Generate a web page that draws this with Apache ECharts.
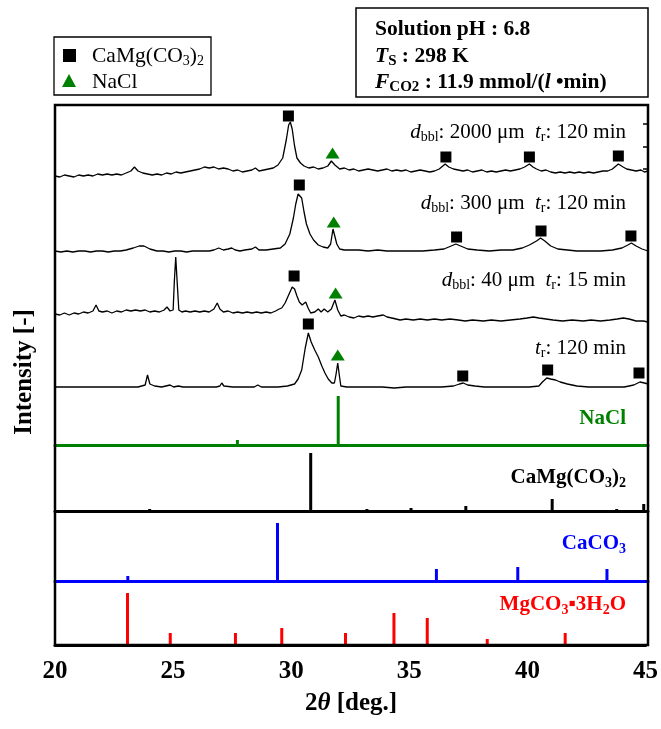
<!DOCTYPE html>
<html lang="en">
<head>
    <meta charset="UTF-8">
    <title>XRD</title>
    <script src="https://cdn.jsdelivr.net/npm/echarts/dist/echarts.min.js"></script>
    <style>body{margin:0;background:#fff;}</style>
</head>
<body>
    <div id="main" style="width:661px;height:729px;"></div>
    <script>
// measured patterns, [2theta, intensity a.u.]
var trace1 = [[20.0,4],[20.2,3],[20.4,5],[20.6,4],[20.8,3],[21.0,5],[21.2,4],[21.4,5],[21.6,4],[21.8,6],[22.0,5],[22.2,6],[22.4,5],[22.6,6],[22.8,5],[23.0,7],[23.2,9],[23.35,13],[23.5,9],[23.7,7],[23.9,6],[24.1,5],[24.3,6],[24.5,5],[24.7,7],[24.9,6],[25.1,8],[25.3,7],[25.5,8],[25.7,9],[25.9,10],[26.1,11],[26.3,13],[26.5,12],[26.7,13],[26.9,11],[27.1,12],[27.3,11],[27.5,9],[27.7,10],[27.9,8],[28.1,9],[28.3,10],[28.45,12],[28.6,9],[28.8,10],[29.0,11],[29.2,12],[29.4,15],[29.6,22],[29.75,40],[29.85,55],[29.92,58],[30.0,51],[30.1,34],[30.2,22],[30.35,17],[30.5,14],[30.7,12],[30.9,13],[31.1,11],[31.3,12],[31.5,14],[31.65,19],[31.8,15],[32.0,11],[32.2,12],[32.4,10],[32.6,11],[32.8,9],[33.0,10],[33.2,11],[33.4,10],[33.6,9],[33.8,10],[34.0,11],[34.2,9],[34.4,10],[34.6,9],[34.8,10],[35.0,8],[35.2,9],[35.4,10],[35.6,9],[35.8,8],[36.0,9],[36.2,11],[36.45,16],[36.6,13],[36.8,11],[37.0,10],[37.2,9],[37.4,10],[37.6,8],[37.8,9],[38.0,10],[38.2,8],[38.4,9],[38.6,8],[38.8,9],[39.0,10],[39.2,9],[39.4,10],[39.6,11],[39.8,13],[40.0,16],[40.15,13],[40.3,11],[40.5,9],[40.7,10],[40.9,8],[41.1,7],[41.3,8],[41.5,7],[41.7,8],[41.9,7],[42.1,8],[42.3,7],[42.5,8],[42.7,7],[42.9,8],[43.1,9],[43.3,9],[43.5,11],[43.75,16],[43.95,13],[44.1,11],[44.3,10],[44.5,9],[44.7,10],[44.85,8],[45.0,9]];
var trace2 = [[20.0,5],[20.25,4],[20.5,5],[20.75,4],[21.0,5],[21.25,5],[21.5,4],[21.75,5],[22.0,5],[22.25,4],[22.5,5],[22.75,5],[23.0,6],[23.3,8],[23.55,10],[23.75,10],[24.0,7],[24.3,5],[24.55,5],[24.8,4],[25.05,5],[25.3,5],[25.55,4],[25.8,5],[26.05,5],[26.3,5],[26.5,5],[26.7,6],[26.9,8],[27.1,6],[27.3,7],[27.45,8],[27.6,6],[27.8,5],[28.0,6],[28.3,7],[28.45,9],[28.6,6],[28.9,6],[29.2,7],[29.5,8],[29.7,12],[29.9,22],[30.05,38],[30.15,52],[30.25,62],[30.3,64],[30.4,58],[30.5,44],[30.6,32],[30.75,22],[30.9,16],[31.1,11],[31.3,9],[31.5,8],[31.62,12],[31.72,27],[31.78,27],[31.88,12],[32.0,7],[32.2,6],[32.4,6],[32.8,6],[33.2,5],[33.6,6],[34.0,5],[34.5,5],[35.0,5],[35.5,5],[36.0,6],[36.4,7],[36.7,10],[36.9,12],[37.1,10],[37.4,7],[37.8,6],[38.3,5],[38.8,6],[39.3,6],[39.7,8],[40.0,11],[40.3,15],[40.47,18],[40.65,15],[40.9,10],[41.2,7],[41.6,6],[42.0,5],[42.5,5],[43.0,5],[43.5,6],[43.9,8],[44.15,11],[44.3,13],[44.5,10],[44.75,7],[45.0,5]];
var trace3 = [[20.0,8],[20.2,7],[20.4,9],[20.6,7],[20.8,9],[21.0,8],[21.2,10],[21.4,9],[21.6,11],[21.73,17],[21.85,11],[22.0,10],[22.2,11],[22.4,9],[22.6,11],[22.8,10],[23.0,12],[23.2,11],[23.4,12],[23.6,11],[23.8,12],[24.0,10],[24.2,11],[24.4,10],[24.6,12],[24.72,15],[24.85,11],[24.98,12],[25.03,40],[25.09,65],[25.15,40],[25.22,12],[25.35,10],[25.5,11],[25.7,10],[25.9,11],[26.1,10],[26.3,11],[26.5,10],[26.7,13],[26.84,19],[26.95,13],[27.1,10],[27.3,11],[27.5,9],[27.7,10],[27.9,9],[28.1,10],[28.3,9],[28.5,10],[28.7,9],[28.9,10],[29.1,9],[29.3,11],[29.45,13],[29.56,14],[29.7,19],[29.85,27],[30.0,35],[30.1,33],[30.2,26],[30.3,20],[30.42,17],[30.57,20],[30.67,14],[30.78,9],[30.95,10],[31.1,13],[31.22,10],[31.35,13],[31.5,10],[31.65,13],[31.8,22],[31.92,12],[32.05,6],[32.2,7],[32.4,5],[32.6,4],[32.8,6],[33.0,5],[33.2,6],[33.4,5],[33.6,6],[33.84,7],[34.0,5],[34.2,4],[34.55,2],[34.8,3],[35.1,2],[35.4,3],[35.7,2],[36.0,3],[36.3,2],[36.65,3],[37.0,2],[37.3,1],[37.6,2],[38.06,1],[38.4,2],[38.8,1],[39.2,2],[39.6,3],[39.9,4],[40.17,5],[40.4,4],[40.7,3],[41.0,2],[41.4,1],[41.8,2],[42.27,1],[42.6,2],[43.0,1],[43.4,2],[43.7,3],[43.96,4],[44.2,3],[44.5,1],[44.8,1],[45.0,0]];
var trace4 = [[20.0,5],[20.5,5],[21.0,5],[21.5,5],[22.0,5],[22.5,5],[23.0,5],[23.5,5],[23.8,7],[23.9,17],[24.0,8],[24.2,6],[24.5,5],[24.85,7],[25.0,5],[25.2,6],[25.4,5],[25.8,5],[26.3,5],[26.8,5],[26.95,6],[27.03,9],[27.12,6],[27.5,5],[28.0,5],[28.4,5],[28.55,7],[28.7,5],[29.0,5],[29.4,5],[29.8,6],[30.1,8],[30.25,13],[30.4,22],[30.55,44],[30.68,59],[30.8,50],[30.95,42],[31.1,35],[31.25,26],[31.38,19],[31.52,13],[31.67,9],[31.78,9],[31.85,18],[31.92,29],[31.98,18],[32.05,6],[32.3,5],[32.8,5],[33.3,5],[33.8,5],[34.3,4],[34.8,5],[35.3,5],[35.8,5],[36.3,5],[36.8,6],[37.05,8],[37.21,9],[37.4,7],[37.7,6],[38.1,5],[38.45,5],[38.51,7],[38.58,5],[39.0,5],[39.5,5],[40.0,5],[40.4,6],[40.55,10],[40.73,14],[40.9,13],[41.1,12],[41.3,10],[41.6,8],[42.0,6],[42.5,5],[43.0,5],[43.5,5],[44.0,5],[44.4,7],[44.66,10],[44.85,9],[45.0,8]];

// peak markers (CaMg(CO3)2 squares, NaCl triangles)
var sq1 = [[29.84,64],[36.48,23],[40.0,23],[43.75,24]];
var tri1 = [[31.7,27]];
var sq2 = [[30.3,71],[36.93,19],[40.49,25],[44.28,20]];
var tri2 = [[31.75,34]];
var sq3 = [[30.08,46]];
var tri3 = [[31.83,29]];
var sq4 = [[30.68,68],[37.19,16],[40.77,22],[44.62,19]];
var tri4 = [[31.92,37]];

// reference sticks
var refNaCl = [[27.69,5],[31.94,49]];
var refDolomite = [[22.04,1],[23.99,2],[30.78,58],[33.15,2],[35.01,3],[37.32,5],[40.96,12],[43.68,2],[44.82,7]];
var refCaCO3 = [[23.07,5],[29.38,58],[36.08,12],[39.51,14],[43.27,12]];
var refMgCO3 = [[23.07,52],[24.88,12],[27.64,12],[29.6,17],[32.3,12],[34.35,32],[35.76,27],[38.3,6],[41.6,12]];

var GREEN = '#008000', BLUE = '#0000ff', RED = '#ff0000';
var serif = 'Liberation Serif';

var myChart = echarts.init(document.getElementById('main'));

// grid boxes: [top, height]
var boxes = [[105,75],[181,75],[247,75],[317,75],[393,52],[447,64],[515,66],[583,62],[124,45]];
var grids = boxes.map(function (b) { return { left: 55, right: 13, top: b[0], height: b[1] }; });

function xAx(i, lineColor, labels) {
    return {
        type: 'value', gridIndex: i, min: 20, max: 45, interval: 5,
        show: !!lineColor,
        axisLine: { show: !!lineColor, onZero: false, lineStyle: { color: lineColor || '#000', width: 3 } },
        axisTick: { show: false },
        splitLine: { show: false },
        axisLabel: labels ? { show: true, margin: 14, color: '#000', fontFamily: serif, fontWeight: 'bold', fontSize: 25 } : { show: false }
    };
}
var xAxes = [xAx(0), xAx(1), xAx(2), xAx(3), xAx(4, GREEN), xAx(5, '#000'), xAx(6, BLUE), xAx(7, '#000', true), xAx(8)];
var yAxes = boxes.map(function (b, i) {
    return { type: 'value', gridIndex: i, min: 0, max: b[1], show: false };
});
// small right-hand ticks beside the top pattern
yAxes[8] = {
    type: 'value', gridIndex: 8, min: 0, max: 2, interval: 1, position: 'right',
    axisLine: { show: false }, axisLabel: { show: false }, splitLine: { show: false },
    axisTick: { show: true, inside: true, length: 5, lineStyle: { color: '#000', width: 1.5 } }
};

var series = [];
[trace1, trace2, trace3, trace4].forEach(function (d, i) {
    series.push({ type: 'line', xAxisIndex: i, yAxisIndex: i, data: d, showSymbol: false, clip: false,
        lineStyle: { color: '#000', width: 1.3 } });
});
[sq1, sq2, sq3, sq4].forEach(function (d, i) {
    series.push({ type: 'scatter', xAxisIndex: i, yAxisIndex: i, data: d, symbol: 'rect', symbolSize: 11,
        itemStyle: { color: '#000', opacity: 1 }, clip: false, z: 5 });
});
[tri1, tri2, tri3, tri4].forEach(function (d, i) {
    series.push({ type: 'scatter', xAxisIndex: i, yAxisIndex: i, data: d, symbol: 'triangle', symbolSize: [14, 11],
        itemStyle: { color: GREEN, opacity: 1 }, clip: false, z: 5 });
});
[[refNaCl, GREEN], [refDolomite, '#000'], [refCaCO3, BLUE], [refMgCO3, RED]].forEach(function (r, i) {
    series.push({ type: 'bar', xAxisIndex: i + 4, yAxisIndex: i + 4, data: r[0], barWidth: 3,
        itemStyle: { color: r[1] } });
});

var traceRich = {
    n: { fontFamily: serif, fontSize: 21 },
    i: { fontFamily: serif, fontSize: 21, fontStyle: 'italic' },
    s: { fontFamily: serif, fontSize: 14, padding: [10, 0, 0, 0] }
};
function traceLabel(txt, y) {
    return { type: 'text', x: 626, y: y, z: 10,
        style: { text: txt, align: 'right', verticalAlign: 'middle', fill: '#000', rich: traceRich, fontFamily: serif, fontSize: 21 } };
}
function refLabel(txt, y, color) {
    var b = { fontFamily: serif, fontSize: 21, fontWeight: 'bold', fill: color };
    return { type: 'text', x: 626, y: y, z: 10,
        style: { text: txt, align: 'right', verticalAlign: 'middle', fill: color, fontFamily: serif, fontSize: 21, fontWeight: 'bold',
            rich: { b: b, s: { fontFamily: serif, fontSize: 14, fontWeight: 'bold', fill: color, padding: [10, 0, 0, 0] } } } };
}
var infoRich = {
    b: { fontFamily: serif, fontSize: 21.5, fontWeight: 'bold' },
    i: { fontFamily: serif, fontSize: 21.5, fontWeight: 'bold', fontStyle: 'italic' },
    s: { fontFamily: serif, fontSize: 15, fontWeight: 'bold', padding: [11, 0, 0, 0] }
};
var legRich = {
    n: { fontFamily: serif, fontSize: 21.5 },
    s: { fontFamily: serif, fontSize: 14, padding: [10, 0, 0, 0] }
};

var graphic = [
    // frame
    { type: 'rect', z: 20, shape: { x: 55, y: 105, width: 593, height: 540 }, style: { fill: 'none', stroke: '#000', lineWidth: 2.5 } },
    // legend box
    { type: 'rect', shape: { x: 54, y: 37, width: 157, height: 58 }, style: { fill: '#fff', stroke: '#000', lineWidth: 1.3 } },
    { type: 'rect', shape: { x: 63, y: 49, width: 13, height: 13 }, style: { fill: '#000' } },
    { type: 'polygon', shape: { points: [[69, 74], [62, 87], [76, 87]] }, style: { fill: GREEN } },
    { type: 'text', x: 92, y: 56, style: { text: '{n|CaMg(CO}{s|3}{n|)}{s|2}', rich: legRich, verticalAlign: 'middle', fill: '#000' } },
    { type: 'text', x: 92, y: 82, style: { text: 'NaCl', verticalAlign: 'middle', fill: '#000', fontFamily: serif, fontSize: 21.5 } },
    // condition box
    { type: 'rect', shape: { x: 356, y: 8, width: 292, height: 89 }, style: { fill: '#fff', stroke: '#000', lineWidth: 1.5 } },
    { type: 'text', x: 375, y: 29, style: { text: '{b|Solution pH : 6.8}', rich: infoRich, verticalAlign: 'middle', fill: '#000' } },
    { type: 'text', x: 375, y: 56, style: { text: '{i|T}{s|S}{b| : 298 K}', rich: infoRich, verticalAlign: 'middle', fill: '#000' } },
    { type: 'text', x: 375, y: 82, style: { text: '{i|F}{s|CO2}{b| : 11.9 mmol/(}{i|l }{b|•min)}', rich: infoRich, verticalAlign: 'middle', fill: '#000' } },
    // pattern labels
    traceLabel('{i|d}{s|bbl}{n|: 2000 μm  }{i|t}{s|r}{n|: 120 min}', 132),
    traceLabel('{i|d}{s|bbl}{n|: 300 μm  }{i|t}{s|r}{n|: 120 min}', 203),
    traceLabel('{i|d}{s|bbl}{n|: 40 μm  }{i|t}{s|r}{n|: 15 min}', 280),
    traceLabel('{i|t}{s|r}{n|: 120 min}', 348),
    refLabel('{b|NaCl}', 419, GREEN),
    refLabel('{b|CaMg(CO}{s|3}{b|)}{s|2}', 478, '#000'),
    refLabel('{b|CaCO}{s|3}', 544, BLUE),
    refLabel('{b|MgCO}{s|3}{b|▪3H}{s|2}{b|O}', 605, RED),
    // axis titles
    { type: 'text', x: 351, y: 704, style: { text: '{b|2}{i|θ}{b| [deg.]}', align: 'center', verticalAlign: 'middle', fill: '#000',
        rich: { b: { fontFamily: serif, fontSize: 25, fontWeight: 'bold' }, i: { fontFamily: serif, fontSize: 25, fontWeight: 'bold', fontStyle: 'italic' } } } },
    { type: 'text', x: 25, y: 372, rotation: Math.PI / 2,
        style: { text: 'Intensity [-]', align: 'center', verticalAlign: 'middle', fill: '#000', fontFamily: serif, fontSize: 25, fontWeight: 'bold' } }
];

var option = {
    animation: false,
    backgroundColor: '#fff',
    grid: grids,
    xAxis: xAxes,
    yAxis: yAxes,
    series: series,
    graphic: graphic
};
myChart.setOption(option);
    </script>
</body>
</html>
